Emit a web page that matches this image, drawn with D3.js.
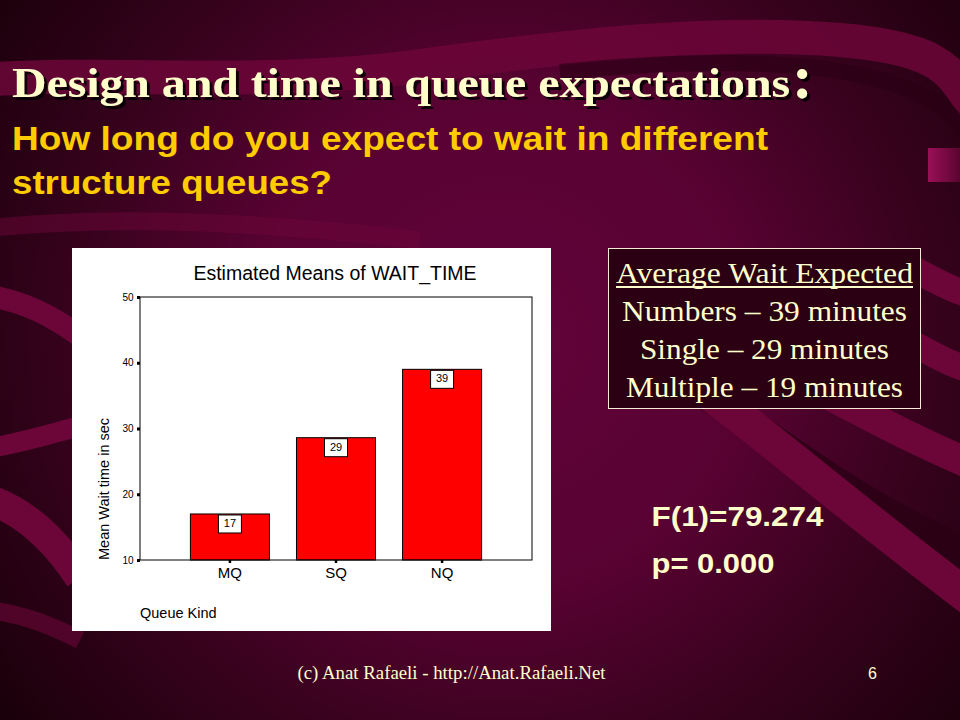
<!DOCTYPE html>
<html>
<head>
<meta charset="utf-8">
<script src="https://cdn.jsdelivr.net/npm/d3@7"></script>
<style>
  html, body { margin: 0; padding: 0; background: #1e000c; }
  svg { display: block; }
</style>
</head>
<body>
<script>
// ---------- data ----------
const categories = ["MQ", "SQ", "NQ"];
const meanWait = [17.0, 28.6, 39.0];
const valueLabels = ["17", "29", "39"];
const yTicks = [10, 20, 30, 40, 50];
const yDomain = [10, 50];

const slideTitle = "Design and time in queue expectations";
const subtitleLines = ["How long do you expect to wait in different", "structure queues?"];
const summaryHeader = "Average Wait Expected";
const summaryLines = ["Numbers \u2013 39 minutes", "Single \u2013 29 minutes", "Multiple \u2013 19 minutes"];
const statLines = ["F(1)=79.274", "p= 0.000"];
const footerText = "(c) Anat Rafaeli - http://Anat.Rafaeli.Net";
const pageNumber = "6";

// ---------- canvas ----------
const W = 960, H = 720;
const svg = d3.select("body").append("svg").attr("width", W).attr("height", H);
const defs = svg.append("defs");

const rg = defs.append("radialGradient").attr("id", "bg")
  .attr("gradientUnits", "userSpaceOnUse")
  .attr("cx", 500).attr("cy", 340).attr("r", 620);
[[0, "#63043a"], [0.4, "#580232"], [0.72, "#34021b"], [1, "#1a000a"]]
  .forEach(([o, c]) => rg.append("stop").attr("offset", o).attr("stop-color", c));

const tabG = defs.append("linearGradient").attr("id", "tab").attr("x1", 0).attr("x2", 1);
tabG.append("stop").attr("offset", 0).attr("stop-color", "#9a1058");
tabG.append("stop").attr("offset", 1).attr("stop-color", "#5a0430");

const shadow = defs.append("filter").attr("id", "shadow")
  .attr("x", "-5%").attr("y", "-20%").attr("width", "115%").attr("height", "150%");
shadow.append("feDropShadow").attr("dx", 3).attr("dy", 3).attr("stdDeviation", 0.6)
  .attr("flood-color", "#000").attr("flood-opacity", 0.85);

svg.append("rect").attr("width", W).attr("height", H).attr("fill", "url(#bg)");

// decorative swooshes
const bands = svg.append("g").attr("fill", "none").attr("stroke-linecap", "butt");
const lightBand = "#6c0638";
const darkBand = "#2a0014";
bands.append("path").attr("d", "M-20,80 C120,70 260,88 420,66 S720,30 840,40 S950,80 985,120")
  .attr("stroke", lightBand).attr("stroke-width", 34).attr("opacity", 0.85);
bands.append("path").attr("d", "M560,72 C680,60 800,58 880,80 S960,130 985,160")
  .attr("stroke", darkBand).attr("stroke-width", 16).attr("opacity", 0.6);
bands.append("path").attr("d", "M-10,228 C120,215 260,222 420,240")
  .attr("stroke", lightBand).attr("stroke-width", 18).attr("opacity", 0.5);
bands.append("path").attr("d", "M-10,296 C25,302 50,315 80,336")
  .attr("stroke", lightBand).attr("stroke-width", 22);
bands.append("path").attr("d", "M-10,448 C25,442 50,434 80,426")
  .attr("stroke", lightBand).attr("stroke-width", 20);
bands.append("path").attr("d", "M-10,500 C25,512 55,540 80,578")
  .attr("stroke", lightBand).attr("stroke-width", 30);
bands.append("path").attr("d", "M-10,610 C25,615 50,625 80,640")
  .attr("stroke", lightBand).attr("stroke-width", 18).attr("opacity", 0.6);
bands.append("path").attr("d", "M700,392 C770,430 840,500 985,560")
  .attr("stroke", darkBand).attr("stroke-width", 30).attr("opacity", 0.8);
bands.append("path").attr("d", "M660,360 C740,410 800,470 985,610")
  .attr("stroke", lightBand).attr("stroke-width", 34);
bands.append("path").attr("d", "M800,380 C860,410 910,440 985,470")
  .attr("stroke", lightBand).attr("stroke-width", 30);
bands.append("path").attr("d", "M915,270 C935,280 950,290 985,300")
  .attr("stroke", lightBand).attr("stroke-width", 26);
bands.append("path").attr("d", "M915,345 C935,355 950,365 985,375")
  .attr("stroke", lightBand).attr("stroke-width", 26);
svg.append("rect").attr("x", 928).attr("y", 148).attr("width", 32).attr("height", 34)
  .attr("fill", "url(#tab)");

// ---------- slide text ----------
const serif = "'Liberation Serif', 'Times New Roman', Times, serif";
const sans = "'Liberation Sans', Arial, Helvetica, sans-serif";
const cream = "#FFFFCC";

const titleG = svg.append("g").attr("font-family", serif).attr("font-weight", "bold")
  .attr("fill", cream).attr("filter", "url(#shadow)");
titleG.append("text").attr("x", 12).attr("y", 97).attr("font-size", 42)
  .attr("textLength", 778).attr("lengthAdjust", "spacingAndGlyphs")
  .text(slideTitle);
titleG.append("text").attr("x", 792).attr("y", 98).attr("font-size", 62).text(":");

const subLens = [756, 320];
const subY = [150, 194];
svg.append("g").attr("font-family", sans).attr("font-weight", "bold").attr("fill", "#FFCC00")
  .selectAll("text").data(subtitleLines).join("text")
  .attr("x", 12).attr("y", (d, i) => subY[i]).attr("font-size", 33.5)
  .attr("textLength", (d, i) => subLens[i]).attr("lengthAdjust", "spacingAndGlyphs")
  .text(d => d);

// ---------- chart panel ----------
svg.append("rect").attr("x", 72).attr("y", 248).attr("width", 479).attr("height", 383)
  .attr("fill", "#ffffff");

const plot = { left: 140, right: 532, top: 297, bottom: 560 };
const y = d3.scaleLinear().domain(yDomain).range([plot.bottom, plot.top]);
const x = d3.scaleBand().domain(categories).range([plot.left, plot.right])
  .paddingInner(0.255).paddingOuter(0.475);

const chart = svg.append("g").attr("font-family", sans);

chart.append("text").attr("x", 335).attr("y", 280).attr("text-anchor", "middle")
  .attr("font-size", 19.5).attr("fill", "#000").text("Estimated Means of WAIT_TIME");

const bars = chart.selectAll("g.bar").data(categories.map((c, i) => ({ c, v: meanWait[i], l: valueLabels[i] })))
  .join("g").attr("class", "bar");
bars.append("rect")
  .attr("x", d => x(d.c)).attr("width", x.bandwidth())
  .attr("y", d => y(d.v)).attr("height", d => y(yDomain[0]) - y(d.v))
  .attr("fill", "#FF0000").attr("stroke", "#000").attr("stroke-width", 1);
bars.append("rect")
  .attr("x", d => x(d.c) + x.bandwidth() / 2 - 11.5).attr("width", 23)
  .attr("y", d => y(d.v) + 1).attr("height", 18)
  .attr("fill", "#fff").attr("stroke", "#000").attr("stroke-width", 1);
bars.append("text")
  .attr("x", d => x(d.c) + x.bandwidth() / 2).attr("y", d => y(d.v) + 13)
  .attr("text-anchor", "middle").attr("font-size", 11).attr("fill", "#000")
  .text(d => d.l);

chart.append("rect").attr("x", plot.left).attr("y", plot.top)
  .attr("width", plot.right - plot.left).attr("height", plot.bottom - plot.top)
  .attr("fill", "none").attr("stroke", "#000").attr("stroke-width", 1);

const yAxis = chart.append("g").attr("transform", `translate(${plot.left},0)`)
  .call(d3.axisLeft(y).tickValues(yTicks).tickSize(3).tickPadding(3.5).tickFormat(d3.format("d")));
yAxis.select(".domain").remove();
yAxis.selectAll(".tick line").attr("stroke", "#000").attr("stroke-width", 3);
yAxis.selectAll(".tick text").attr("font-family", sans).attr("font-size", 10).attr("fill", "#000");

const xAxis = chart.append("g").attr("transform", `translate(0,${plot.bottom})`)
  .call(d3.axisBottom(x).tickSize(3).tickPadding(4.5));
xAxis.select(".domain").remove();
xAxis.selectAll(".tick line").attr("stroke", "#000").attr("stroke-width", 2.5);
xAxis.selectAll(".tick text").attr("font-family", sans).attr("font-size", 15).attr("fill", "#000");

chart.append("text").attr("transform", "translate(109,560) rotate(-90)")
  .attr("font-size", 14.5).attr("fill", "#000").text("Mean Wait time in sec");
chart.append("text").attr("x", 140).attr("y", 618)
  .attr("font-size", 14.5).attr("fill", "#000").text("Queue Kind");

// ---------- summary box ----------
svg.append("rect").attr("x", 608.5).attr("y", 248.5).attr("width", 312).attr("height", 160)
  .attr("fill", "#2a0012").attr("stroke", "#f4ecd4").attr("stroke-width", 1);
const boxG = svg.append("g").attr("font-family", serif).attr("fill", cream).attr("text-anchor", "middle");
boxG.append("text").attr("x", 764.5).attr("y", 282.5).attr("font-size", 29)
  .attr("textLength", 297).attr("lengthAdjust", "spacingAndGlyphs").text(summaryHeader);
svg.append("line").attr("x1", 616).attr("x2", 913).attr("y1", 287).attr("y2", 287)
  .attr("stroke", cream).attr("stroke-width", 1.8);
const sumLens = [285, 249, 277];
const sumY = [320.5, 359, 397];
boxG.selectAll("text.line").data(summaryLines).join("text").attr("class", "line")
  .attr("x", 764.5).attr("y", (d, i) => sumY[i]).attr("font-size", 29)
  .attr("textLength", (d, i) => sumLens[i]).attr("lengthAdjust", "spacingAndGlyphs")
  .text(d => d);

// ---------- statistics ----------
const statLens = [172, 123];
const statY = [526, 573];
svg.append("g").attr("font-family", sans).attr("font-weight", "bold").attr("fill", cream)
  .selectAll("text").data(statLines).join("text")
  .attr("x", 651.5).attr("y", (d, i) => statY[i]).attr("font-size", 27)
  .attr("textLength", (d, i) => statLens[i]).attr("lengthAdjust", "spacingAndGlyphs")
  .text(d => d);

// ---------- footer ----------
svg.append("text").attr("x", 297.5).attr("y", 678.5).attr("font-family", serif)
  .attr("font-size", 18).attr("fill", cream)
  .attr("textLength", 308).attr("lengthAdjust", "spacingAndGlyphs").text(footerText);
svg.append("text").attr("x", 868).attr("y", 678.5).attr("font-family", sans)
  .attr("font-size", 16).attr("fill", cream).text(pageNumber);
</script>
</body>
</html>
